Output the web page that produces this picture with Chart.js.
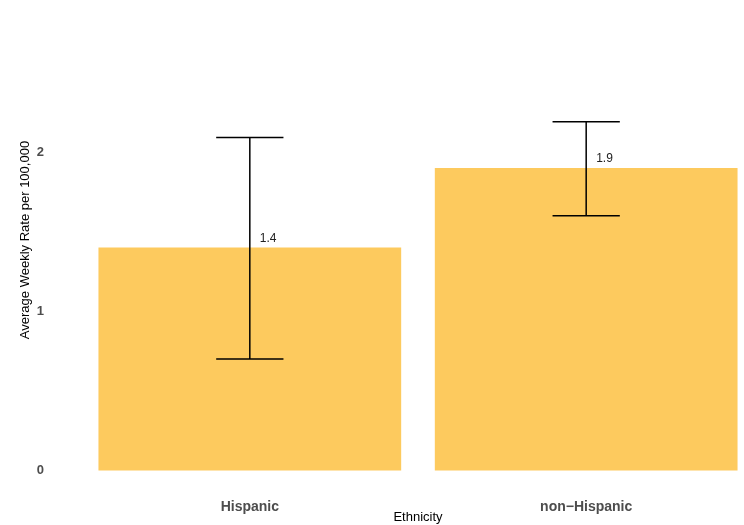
<!DOCTYPE html>
<html>
<head>
<meta charset="utf-8">
<script src="https://cdn.jsdelivr.net/npm/chart.js@4/dist/chart.umd.min.js"></script>
<style>
  html, body { margin: 0; padding: 0; background: #fff; overflow: hidden; }
  #wrap { width: 800px; height: 525px; }
</style>
</head>
<body>
<div id="wrap"><canvas id="c" width="800" height="525"></canvas></div>
<script>
// Average weekly rate per 100,000 by ethnicity, with confidence interval bounds
const categories = ['Hispanic', 'non\u2212Hispanic'];
const rates = [1.4, 1.9];
const ciLower = [0.70, 1.60];
const ciUpper = [2.09, 2.19];
const yTicks = [0, 1, 2];
const yTitle = 'Average Weekly Rate per 100,000';

const barColor = 'rgb(253,202,94)';
const fontFamily = '"Liberation Sans", Arial, sans-serif';

// Whiskers, caps and value labels drawn on top of the bars
const errorBars = {
  id: 'errorBars',
  afterDatasetsDraw(chart) {
    const { ctx, scales: { x, y } } = chart;
    ctx.save();
    ctx.strokeStyle = '#000';
    ctx.lineWidth = 1.5;
    const capHalf = 0.1;
    categories.forEach((_, i) => {
      const xv = i + 1;
      const cx = x.getPixelForValue(xv);
      const yl = y.getPixelForValue(ciLower[i]);
      const yu = y.getPixelForValue(ciUpper[i]);
      const x0 = x.getPixelForValue(xv - capHalf);
      const x1 = x.getPixelForValue(xv + capHalf);
      ctx.beginPath();
      ctx.moveTo(cx, yu); ctx.lineTo(cx, yl);
      ctx.moveTo(x0, yu); ctx.lineTo(x1, yu);
      ctx.moveTo(x0, yl); ctx.lineTo(x1, yl);
      ctx.stroke();
    });
    ctx.fillStyle = '#222';
    ctx.font = '12px ' + fontFamily;
    ctx.textAlign = 'left';
    ctx.textBaseline = 'bottom';
    categories.forEach((_, i) => {
      const cx = x.getPixelForValue(i + 1);
      const yt = y.getPixelForValue(rates[i]);
      ctx.fillText(rates[i].toFixed(1), cx + 10, yt - 3);
    });
    ctx.restore();
  }
};

// Vertical axis title, placed beside the tick labels
const yAxisTitle = {
  id: 'yAxisTitle',
  afterDraw(chart) {
    const { ctx } = chart;
    ctx.save();
    ctx.translate(25, 240);
    ctx.rotate(-Math.PI / 2);
    ctx.fillStyle = '#000';
    ctx.font = '13px ' + fontFamily;
    ctx.textAlign = 'center';
    ctx.textBaseline = 'middle';
    ctx.fillText(yTitle, 0, 0);
    ctx.restore();
  }
};

new Chart(document.getElementById('c'), {
  type: 'bar',
  data: {
    datasets: [{
      data: categories.map((c, i) => ({ x: i + 1, y: rates[i] })),
      backgroundColor: barColor,
      borderWidth: 0,
      barPercentage: 0.9,
      categoryPercentage: 1.0
    }]
  },
  options: {
    responsive: false,
    animation: false,
    layout: { padding: { left: 0, right: 12, top: 0, bottom: 0 } },
    plugins: { legend: { display: false }, tooltip: { enabled: false } },
    scales: {
      x: {
        type: 'linear',
        offset: false,
        min: 0.4,
        max: 2.6,
        grid: { display: false, drawTicks: false },
        border: { display: false },
        afterBuildTicks(s) { s.ticks = categories.map((_, i) => ({ value: i + 1 })); },
        afterFit(s) { s.height = 37; },
        ticks: {
          padding: 11,
          color: '#4d4d4d',
          font: { family: fontFamily, size: 14, weight: 'bold' },
          callback: (v) => categories[Math.round(v) - 1] || ''
        },
        title: {
          display: true,
          text: 'Ethnicity',
          color: '#000',
          font: { family: fontFamily, size: 13 },
          padding: { top: 0, bottom: 0 }
        }
      },
      y: {
        type: 'linear',
        min: -0.11,
        max: 2.88,
        grid: { display: false, drawTicks: false },
        border: { display: false },
        afterBuildTicks(s) { s.ticks = yTicks.map(v => ({ value: v })); },
        afterFit(s) { s.width = 48; },
        ticks: {
          padding: 4,
          color: '#4d4d4d',
          font: { family: fontFamily, size: 13, weight: 'bold' }
        },
        title: { display: false }
      }
    }
  },
  plugins: [errorBars, yAxisTitle]
});
</script>
</body>
</html>
